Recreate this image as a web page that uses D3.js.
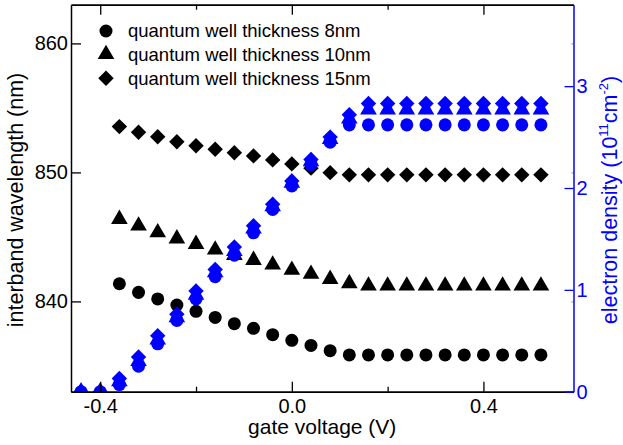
<!DOCTYPE html>
<html>
<head>
<meta charset="utf-8">
<script src="https://cdn.jsdelivr.net/npm/d3@7"></script>
<style>
    body { margin: 0; background: #fff; }
    svg { font-family: "Liberation Sans", Arial, Helvetica, sans-serif; }
</style>
</head>
<body>
<div id="chart"></div>
<script>
// gate voltage (V) of each measured point
const gateVoltage = [-0.44, -0.40, -0.36, -0.32, -0.28, -0.24, -0.20, -0.16, -0.12, -0.08, -0.04,
    0.00, 0.04, 0.08, 0.12, 0.16, 0.20, 0.24, 0.28, 0.32, 0.36, 0.40, 0.44, 0.48, 0.52];

// interband wavelength (nm), measured from -0.36 V on
const wavelength8nm = [841.37, 840.70, 840.19, 839.72, 839.23, 838.76, 838.27, 837.91, 837.42, 836.98,
    836.59, 836.18, 835.85, 835.85, 835.85, 835.85, 835.85, 835.85, 835.85, 835.85, 835.85, 835.85, 835.85];
const wavelength10nm = [846.38, 845.86, 845.34, 844.87, 844.44, 844.00, 843.59, 843.20, 842.84, 842.43,
    842.12, 841.73, 841.39, 841.21, 841.21, 841.21, 841.21, 841.21, 841.21, 841.21, 841.21, 841.21, 841.21];
const wavelength15nm = [853.55, 853.11, 852.77, 852.38, 852.07, 851.80, 851.53, 851.28, 850.97, 850.66,
    850.33, 849.98, 849.81, 849.81, 849.81, 849.81, 849.81, 849.81, 849.81, 849.81, 849.81, 849.81, 849.81];

// electron density (10^11 cm^-2), all gate voltages
const density8nm = [0, 0, 0.07, 0.25, 0.47, 0.70, 0.91, 1.13, 1.34, 1.56, 1.79, 2.02, 2.23, 2.45, 2.62,
    2.62, 2.62, 2.62, 2.62, 2.62, 2.62, 2.62, 2.62, 2.62, 2.62];
const density10nm = [0, 0, 0.10, 0.30, 0.51, 0.73, 0.95, 1.17, 1.38, 1.60, 1.82, 2.05, 2.26, 2.48, 2.68,
    2.77, 2.77, 2.77, 2.77, 2.77, 2.77, 2.77, 2.77, 2.77, 2.77];
const density15nm = [0, 0, 0.13, 0.34, 0.55, 0.76, 0.99, 1.20, 1.42, 1.63, 1.84, 2.07, 2.28, 2.50, 2.72,
    2.83, 2.83, 2.83, 2.83, 2.83, 2.83, 2.83, 2.83, 2.83, 2.83];

const seriesLabels = ["quantum well thickness 8nm", "quantum well thickness 10nm", "quantum well thickness 15nm"];

const xMajorTicks = [-0.4, 0.0, 0.4];
const xMinorTicks = [-0.2, 0.2];
const wavelengthTicks = [840, 850, 860];
const densityTicks = [0, 1, 2, 3];

const width = 623;
const height = 445;
const plot = { left: 71, right: 573.5, top: 4.7, bottom: 391.7 };
const blue = "#0000ff";

const x = d3.scaleLinear().domain([-0.461, 0.588]).range([plot.left, plot.right]);
const yLeft = d3.scaleLinear().domain([833, 863]).range([plot.bottom, plot.top]);
const yRight = d3.scaleLinear().domain([0, 3.8]).range([plot.bottom, plot.top]);

// marker per thickness: circle, triangle, diamond
const markers = [
    { path: d3.symbol(d3.symbolCircle, 133)(), rotate: 0 },
    { path: d3.symbol(d3.symbolTriangle, 120)(), rotate: 0 },
    { path: d3.symbol(d3.symbolSquare, 119)(), rotate: 45 }
];

const svg = d3.select("#chart")
    .append("svg")
    .attr("width", width)
    .attr("height", height);

svg.append("clipPath")
    .attr("id", "plot-clip")
    .append("rect")
    .attr("x", plot.left)
    .attr("y", plot.top)
    .attr("width", plot.right - plot.left)
    .attr("height", plot.bottom - plot.top);

const marks = svg.append("g").attr("clip-path", "url(#plot-clip)");

function drawSeries(xs, ys, yScale, marker, color) {
    const pts = xs.map((v, i) => [v, ys[i]]);
    marks.append("g")
        .selectAll("path")
        .data(pts)
        .enter()
        .append("path")
        .attr("d", marker.path)
        .attr("fill", color)
        .attr("transform", d => `translate(${x(d[0])},${yScale(d[1])}) rotate(${marker.rotate})`);
}

// wavelength data only starts at -0.36 V
const wlVoltage = gateVoltage.slice(gateVoltage.length - wavelength8nm.length);
[wavelength8nm, wavelength10nm, wavelength15nm].forEach((s, i) => drawSeries(wlVoltage, s, yLeft, markers[i], "#000"));
[density8nm, density10nm, density15nm].forEach((s, i) => drawSeries(gateVoltage, s, yRight, markers[i], blue));

// axes, ticks point inwards
const fmtX = d => d.toFixed(1);

function styleAxis(g, color, fontSize) {
    g.selectAll("path.domain").attr("stroke", color).attr("stroke-width", 1.5);
    g.selectAll(".tick line").attr("stroke", color).attr("stroke-width", 1.3);
    g.selectAll(".tick text").attr("fill", color).style("font-size", fontSize + "px");
    g.attr("font-family", null);
}

svg.append("g")
    .attr("transform", `translate(0,${plot.bottom})`)
    .call(d3.axisBottom(x).tickValues(xMinorTicks).tickSize(-5).tickSizeOuter(0).tickFormat(""))
    .call(g => styleAxis(g, "#000", 20));

svg.append("g")
    .attr("transform", `translate(0,${plot.bottom})`)
    .call(d3.axisBottom(x).tickValues(xMajorTicks).tickSize(-10).tickSizeOuter(0).tickPadding(7).tickFormat(fmtX))
    .call(g => styleAxis(g, "#000", 20));

svg.append("g")
    .attr("transform", `translate(0,${plot.top})`)
    .call(d3.axisTop(x).tickValues(xMinorTicks).tickSize(-5).tickSizeOuter(0).tickFormat(""))
    .call(g => styleAxis(g, "#000", 20));

svg.append("g")
    .attr("transform", `translate(0,${plot.top})`)
    .call(d3.axisTop(x).tickValues(xMajorTicks).tickSize(-10).tickSizeOuter(0).tickFormat(""))
    .call(g => styleAxis(g, "#000", 20));

svg.append("g")
    .attr("transform", `translate(${plot.left},0)`)
    .call(d3.axisLeft(yLeft).tickValues(wavelengthTicks).tickSize(-10).tickSizeOuter(0).tickPadding(3).tickFormat(d3.format("d")))
    .call(g => styleAxis(g, "#000", 20));

// faint mirror of the wavelength ticks on the right edge
svg.append("g")
    .attr("transform", `translate(${plot.right},0)`)
    .call(d3.axisLeft(yLeft).tickValues(wavelengthTicks).tickSize(2).tickSizeOuter(0).tickFormat(""))
    .call(g => {
        g.select("path.domain").remove();
        g.selectAll(".tick line").attr("stroke", "#888");
    });

svg.append("g")
    .attr("transform", `translate(${plot.right},0)`)
    .call(d3.axisRight(yRight).tickValues(densityTicks).tickSize(-9).tickSizeOuter(0).tickPadding(3).tickFormat(d3.format("d")))
    .call(g => styleAxis(g, blue, 20));

// axis titles
svg.append("text")
    .attr("x", (plot.left + plot.right) / 2)
    .attr("y", 434)
    .attr("text-anchor", "middle")
    .style("font-size", "21px")
    .text("gate voltage (V)");

svg.append("text")
    .attr("transform", `translate(23,200) rotate(-90)`)
    .attr("text-anchor", "middle")
    .style("font-size", "21.5px")
    .text("interband wavelength (nm)");

const rightTitle = svg.append("text")
    .attr("transform", `translate(617,200) rotate(-90)`)
    .attr("text-anchor", "middle")
    .attr("fill", blue)
    .style("font-size", "21.5px");
rightTitle.append("tspan").text("electron density (10");
rightTitle.append("tspan").attr("dy", -9).style("font-size", "13px").text("11");
rightTitle.append("tspan").attr("dy", 9).text("cm");
rightTitle.append("tspan").attr("dy", -9).style("font-size", "13px").text("-2");
rightTitle.append("tspan").attr("dy", 9).text(")");

// legend
const legendY = [31, 54.3, 78.3];
const legend = svg.append("g")
    .selectAll("g")
    .data(seriesLabels)
    .enter()
    .append("g")
    .attr("transform", (d, i) => `translate(106,${legendY[i]})`);

legend.append("path")
    .attr("d", (d, i) => markers[i].path)
    .attr("transform", (d, i) => `rotate(${markers[i].rotate})`)
    .attr("fill", "#000");

legend.append("text")
    .attr("x", 22)
    .attr("dy", "0.35em")
    .style("font-size", "18.5px")
    .text(d => d);
</script>
</body>
</html>
